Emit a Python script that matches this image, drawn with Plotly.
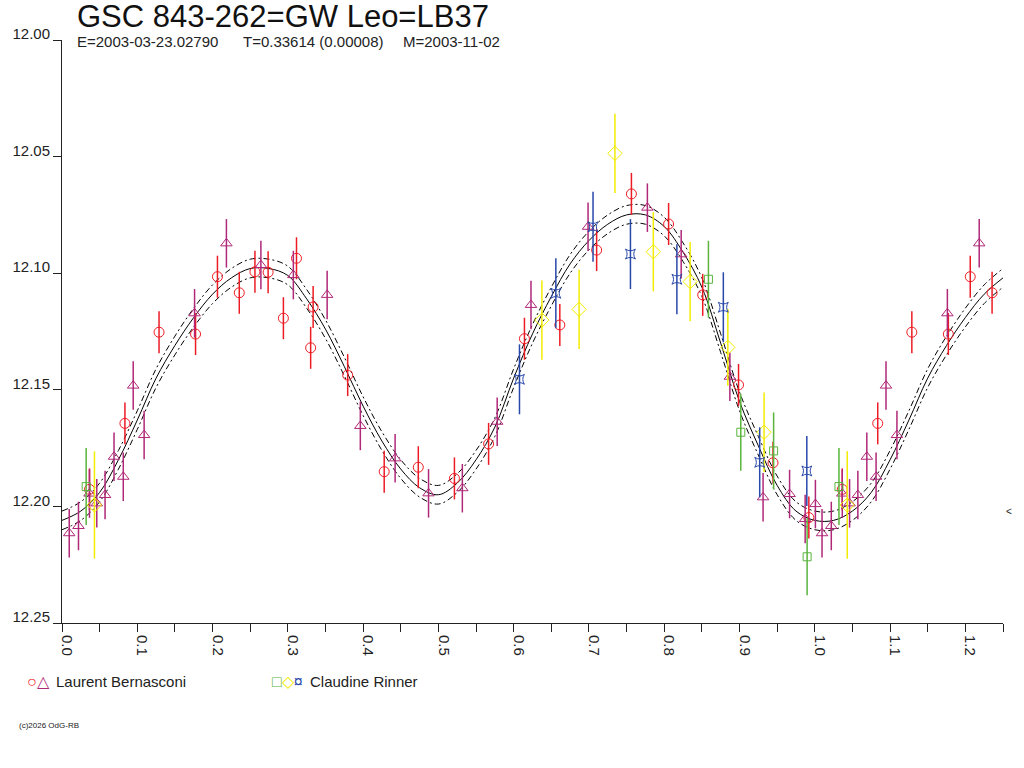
import plotly.graph_objects as go

# light curve of GW Leo
# observations in phase 0..0.25 are repeated at phase+1 like the original plot

# Laurent Bernasconi - circles
lb_circ_phase = [0.0365, 0.0836, 0.1289, 0.1774, 0.2065, 0.2355, 0.2563, 0.2738, 0.2941,
                 0.3115, 0.3303, 0.3336, 0.3795, 0.4280, 0.4733, 0.5213, 0.5667, 0.6143,
                 0.6613, 0.7102, 0.7564, 0.8058, 0.8511, 0.8987, 0.9445, 0.9921]
lb_circ_mag = [12.1927, 12.1644, 12.1253, 12.1261, 12.1015, 12.1084, 12.0994, 12.0996, 12.1193,
               12.0936, 12.1320, 12.1145, 12.1437, 12.1851, 12.1832, 12.1880, 12.1732, 12.1281,
               12.1222, 12.0901, 12.0660, 12.0789, 12.1093, 12.1479, 12.1813, 12.2048]
lb_circ_err = 0.009

# Laurent Bernasconi - triangles
lb_tri_phase = [0.0096, 0.0219, 0.0365, 0.0462, 0.0572, 0.0691, 0.0814, 0.0946, 0.1091,
                0.1761, 0.2184, 0.2642, 0.3073, 0.3522, 0.3963, 0.4425, 0.4869, 0.5318,
                0.5781, 0.6230, 0.6988, 0.7776, 0.8225, 0.8872, 0.9313, 0.9665, 0.9872, 1.0008]
lb_tri_mag = [12.2115, 12.2084, 12.1945, 12.1987, 12.1951, 12.1787, 12.1873, 12.1482, 12.1694,
              12.1172, 12.0872, 12.0965, 12.1008, 12.1093, 12.1655, 12.1794, 12.1944, 12.1922,
              12.1637, 12.1136, 12.0801, 12.0719, 12.0919, 12.1444, 12.1961, 12.1947, 12.2054, 12.1990]
lb_tri_err = 0.0104

# Claudine Rinner - squares, diamonds, stars
cr_sq_phase = [0.0321, 0.8587, 0.9017, 0.9453, 0.9898]
cr_sq_mag = [12.1915, 12.1026, 12.1682, 12.1762, 12.2216]
cr_sq_err = 0.0165

cr_dia_phase = [0.0431, 0.6375, 0.6869, 0.7345, 0.7855, 0.8344, 0.8845, 0.9326]
cr_dia_mag = [12.1994, 12.1201, 12.1155, 12.0486, 12.0908, 12.1036, 12.1318, 12.1682]
cr_dia_err = [0.023, 0.017, 0.017, 0.017, 0.017, 0.017, 0.0165, 0.017]

cr_star_phase = [0.6077, 0.6560, 0.7054, 0.7551, 0.8168, 0.8785, 0.9268, 0.9894]
cr_star_mag = [12.1455, 12.1086, 12.0801, 12.0918, 12.1026, 12.1146, 12.1811, 12.1848]
cr_star_err = 0.015

# fitted curve, phase 0..1
fit_phase = [0.000, 0.025, 0.050, 0.075, 0.100, 0.125, 0.150, 0.175, 0.200, 0.225,
             0.250, 0.275, 0.300, 0.325, 0.350, 0.375, 0.400, 0.425, 0.450, 0.475,
             0.500, 0.525, 0.550, 0.575, 0.600, 0.625, 0.650, 0.675, 0.700, 0.725,
             0.750, 0.775, 0.800, 0.825, 0.850, 0.875, 0.900, 0.925, 0.950, 0.975, 1.000]
fit_mag = [12.206, 12.202, 12.194, 12.180, 12.163, 12.145, 12.131, 12.119, 12.109, 12.102,
           12.098, 12.098, 12.101, 12.111, 12.124, 12.140, 12.157, 12.172, 12.184, 12.192,
           12.195, 12.190, 12.180, 12.166, 12.145, 12.126, 12.110, 12.096, 12.086, 12.079,
           12.075, 12.075, 12.080, 12.091, 12.106, 12.130, 12.155, 12.174, 12.191, 12.202, 12.206]
band = 0.004
min_mark = 12.202

x_range = [0, 1.25]
y_range = [12.25, 12.00]


def wrap(phase, mag, err=None):
    # repeat the start of the cycle after phase 1.0
    p, m = list(phase), list(mag)
    e = list(err) if isinstance(err, list) else None
    for i, ph in enumerate(phase):
        if ph + 1 <= x_range[1] and ph < 1:
            p.append(ph + 1)
            m.append(mag[i])
            if e is not None:
                e.append(err[i])
    return p, m, (e if e is not None else err)


font = "Liberation Sans, Arial, sans-serif"
fig = go.Figure()

fp, fm, _ = wrap(fit_phase[:-1], fit_mag[:-1])
fp = fit_phase + [p for p in fp if p > 1]
fm = fit_mag + fm[len(fit_phase) - 1:]
for off, dash in [(-band, "6px,3px,2px,3px"), (0, "solid"), (band, "6px,3px,2px,3px")]:
    fig.add_trace(go.Scatter(x=fp, y=[v + off for v in fm], mode="lines",
                             line=dict(color="black", width=1, dash=dash, shape="spline"),
                             hoverinfo="skip"))

series = [
    (lb_circ_phase, lb_circ_mag, lb_circ_err, "circle-open", 10, "#ED1C24"),
    (lb_tri_phase, lb_tri_mag, lb_tri_err, "triangle-up-open", 10, "#B02878"),
    (cr_sq_phase, cr_sq_mag, cr_sq_err, "square-open", 8, "#5AB43C"),
    (cr_dia_phase, cr_dia_mag, cr_dia_err, "diamond-open", 11, "#F2EC00"),
    (cr_star_phase, cr_star_mag, cr_star_err, "star-square-open", 9, "#2848AA"),
]
for ph, mg, err, sym, size, col in series:
    p, m, e = wrap(ph, mg, err)
    if isinstance(e, list):
        ey = dict(type="data", array=e, color=col, thickness=1.5, width=0)
    else:
        ey = dict(type="constant", value=e, color=col, thickness=1.5, width=0)
    fig.add_trace(go.Scatter(x=p, y=m, mode="markers", error_y=ey,
                             marker=dict(symbol=sym, size=size, color=col, line=dict(width=1, color=col))))

annots = [
    dict(x=0.0133, y=1.0400, text="GSC 843-262=GW Leo=LB37", font=dict(size=31, color="#111")),
    dict(x=0.0133, y=0.9966, text="E=2003-03-23.02790", font=dict(size=15, color="#222")),
    dict(x=0.1904, y=0.9966, text="T=0.33614 (0.00008)", font=dict(size=15, color="#222")),
    dict(x=0.3600, y=0.9966, text="M=2003-11-02", font=dict(size=15, color="#222")),
    dict(x=-0.0396, y=-0.101, text="<span style='color:#ED1C24'>○</span><span style='color:#B02878'>△</span>",
         font=dict(size=16)),
    dict(x=-0.0089, y=-0.101, text="Laurent Bernasconi", font=dict(size=15, color="#222")),
    dict(x=0.2215, y=-0.101,
         text="<span style='color:#5AB43C'>□</span><span style='color:#F2EC00'>◇</span><span style='color:#2848AA'>¤</span>",
         font=dict(size=16)),
    dict(x=0.2617, y=-0.101, text="Claudine Rinner", font=dict(size=15, color="#222")),
    dict(x=-0.0480, y=-0.175, text="(c)2026 OdG-RB", font=dict(size=8, color="#222")),
]
for a in annots:
    fig.add_annotation(xref="paper", yref="paper", xanchor="left", yanchor="middle",
                       showarrow=False, **a)
fig.add_annotation(xref="paper", yref="y", x=1.001, y=min_mark, text="<", showarrow=False,
                   xanchor="left", font=dict(size=10, color="#222"))

fig.update_layout(
    width=1024, height=768,
    margin=dict(l=57, r=21, t=40, b=145),
    plot_bgcolor="white", paper_bgcolor="white",
    showlegend=False,
    font=dict(family=font, size=15, color="#222"),
)
fig.update_xaxes(range=x_range, tick0=0, dtick=0.1, tickformat=".1f", tickangle=90,
                 ticks="outside", ticklen=8, tickcolor="#222", showline=True, linecolor="#222",
                 showgrid=False, zeroline=False, ticklabelshift=5,
                 minor=dict(dtick=0.05, ticks="outside", ticklen=8, tickcolor="#222"))
fig.update_yaxes(range=y_range, tick0=12, dtick=0.05, tickformat=".2f",
                 ticks="outside", ticklen=8, tickcolor="#222", showline=True, linecolor="#222",
                 showgrid=False, zeroline=False, ticklabelshift=6)

# drop the default page margin so the figure sits at the window corner
fig.write_html("out.html", config={"displayModeBar": False},
               post_script="document.body.style.margin='0';")
